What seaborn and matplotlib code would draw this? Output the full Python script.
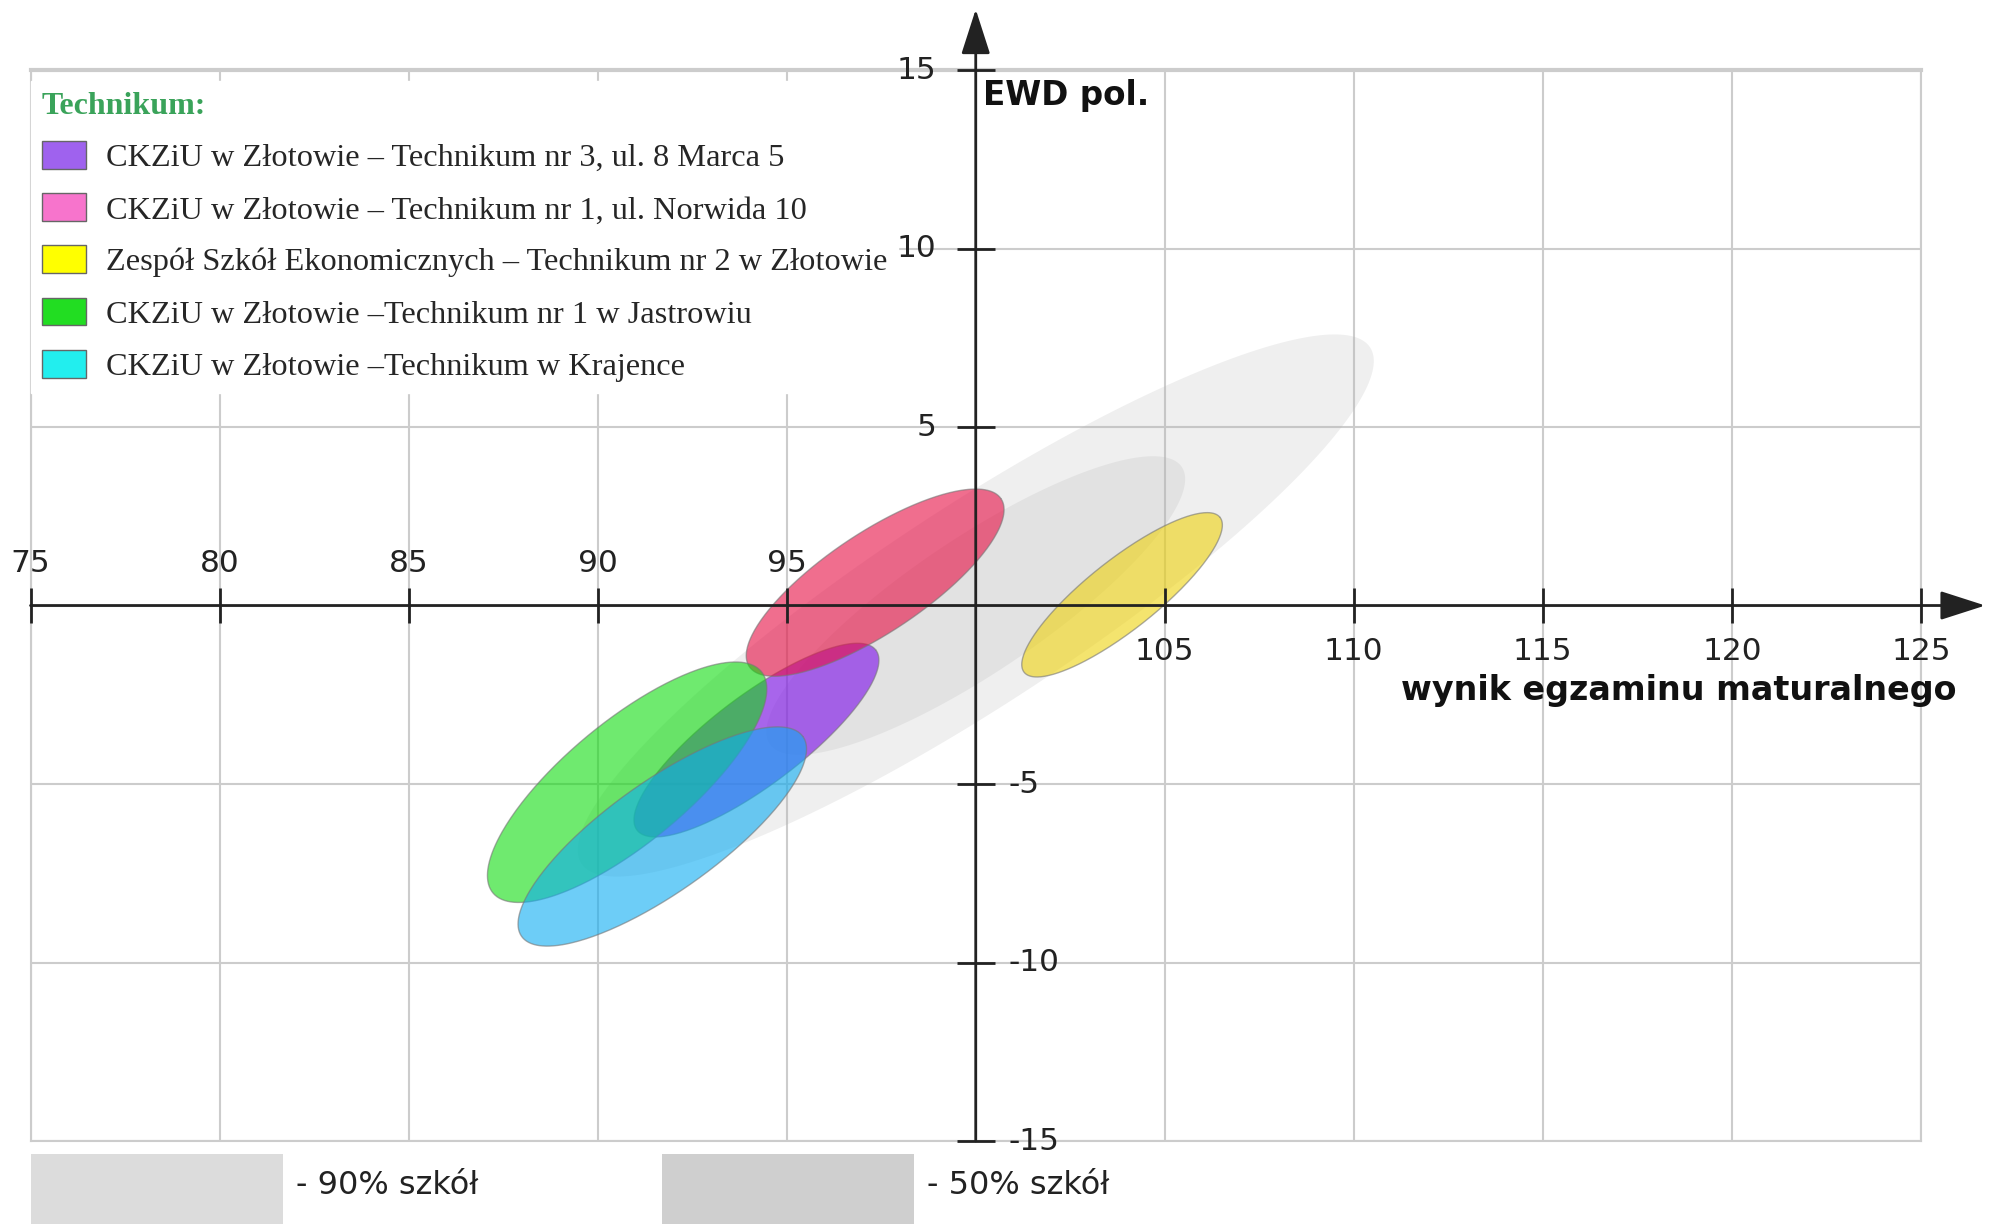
import numpy as np
import pandas as pd
import matplotlib
matplotlib.use("Agg")
import matplotlib.pyplot as plt
from matplotlib.patches import Patch, Rectangle
import seaborn as sns

# szkoly (kolejnosc jak w legendzie)
szkoly = [
    "CKZiU w Złotowie – Technikum nr 3, ul. 8 Marca 5",
    "CKZiU w Złotowie – Technikum nr 1, ul. Norwida 10",
    "Zespół Szkół Ekonomicznych – Technikum nr 2 w Złotowie",
    "CKZiU w Złotowie –Technikum nr 1 w Jastrowiu",
    "CKZiU w Złotowie –Technikum w Krajence",
]
kolory_legendy = ["#9f62ee", "#f774cc", "#ffff00", "#22dd22", "#22eeee"]
kolory_elips = ["#7a0ae9", "#e60d43", "#eed20d", "#0fdc0f", "#0cacf2"]

# elipsy: srodek, polowa osi glownej (dx, dy) i stosunek osi
srodek_x = [94.2, 97.34, 103.87, 90.78, 91.71]
srodek_y = [-3.77, 0.64, 0.30, -4.95, -6.47]
os_dx = [3.16, 3.33, 2.59, 3.55, 3.72]
os_dy = [2.52, 2.35, 2.17, 3.10, 2.80]
proporcja = [0.30, 0.33, 0.28, 0.35, 0.32]
kolejnosc = [0, 1, 3, 4, 2]

# tlo: 90% i 50% szkol
tlo_opis = ["- 90% szkół", "- 50% szkół"]
tlo_x = [100.0, 100.0]
tlo_y = [0.0, 0.0]
tlo_dx = [10.43, 5.45]
tlo_dy = [7.23, 3.88]
tlo_proporcja = [0.21, 0.27]

x_ticks = [75, 80, 85, 90, 95, 105, 110, 115, 120, 125]
y_ticks = [15, 10, 5, -5, -10, -15]

dane = pd.DataFrame({"szkola": szkoly, "x": srodek_x, "y": srodek_y,
                     "dx": os_dx, "dy": os_dy, "r": proporcja})

sns.set_theme(style="white")
plt.rcParams["font.family"] = ["DejaVu Sans"]

fig = plt.figure(figsize=(19.95, 12.24), dpi=100)
ax = fig.add_axes([0.01529, 0.0678, 0.9476, 0.875])
ax.set_xlim(75, 125)
ax.set_ylim(-15, 15)

# skala pikseli na jednostke (zeby elipsa byla prosta w obrazku)
kx = 0.9476 * 1995 / 50
ky = 0.875 * 1224 / 30


def elipsa(cx, cy, dx, dy, r):
    t = np.linspace(0, 2 * np.pi, 300)
    bx = -dy * ky * r / kx
    by = dx * kx * r / ky
    return cx + np.cos(t) * dx + np.sin(t) * bx, cy + np.cos(t) * dy + np.sin(t) * by


for i in range(2):
    ex, ey = elipsa(tlo_x[i], tlo_y[i], tlo_dx[i], tlo_dy[i], tlo_proporcja[i])
    ax.fill(ex, ey, color="#b4b4b4", alpha=0.21, lw=0, zorder=2)

for i in kolejnosc:
    w = dane.iloc[i]
    ex, ey = elipsa(w["x"], w["y"], w["dx"], w["dy"], w["r"])
    ax.fill(ex, ey, facecolor=kolory_elips[i], alpha=0.6, edgecolor="none", zorder=3)
    ax.plot(ex, ey, color="#777777", lw=1, alpha=0.6, zorder=3)

# siatka i ramka
ax.set_xticks(range(75, 126, 5))
ax.set_yticks(range(-15, 16, 5))
ax.tick_params(length=0, labelbottom=False, labelleft=False)
ax.grid(True, color="#cccccc", lw=1.5)
ax.set_axisbelow(True)
for s in ax.spines.values():
    s.set_color("#cccccc")
    s.set_linewidth(1.5)
ax.spines["top"].set_linewidth(3)

# osie ze strzalkami
strzalka = dict(arrowstyle="-|>,head_length=1.4,head_width=0.45", color="#222222",
                lw=2, shrinkA=0, shrinkB=0, mutation_scale=20)
ax.annotate("", xy=(126.7, 0), xytext=(75, 0), arrowprops=strzalka,
            annotation_clip=False, zorder=10)
ax.annotate("", xy=(100, 16.7), xytext=(100, -15), arrowprops=strzalka,
            annotation_clip=False, zorder=10)
ax.vlines(x_ticks, -0.5, 0.5, color="#222222", lw=2, zorder=10, clip_on=False)
ax.hlines(y_ticks, 99.5, 100.5, color="#222222", lw=2, zorder=10, clip_on=False)

for x in x_ticks:
    if x < 100:
        ax.text(x, 1.18, str(x), ha="center", va="center", fontsize=22.5, color="#222222")
    else:
        ax.text(x, -1.28, str(x), ha="center", va="center", fontsize=22.5, color="#222222")
for y in y_ticks:
    if y > 0:
        ax.text(98.95, y, str(y), ha="right", va="center", fontsize=22.5, color="#222222")
    else:
        ax.text(100.87, y, str(y), ha="left", va="center", fontsize=22.5, color="#222222")

ax.text(100.2, 14.29, "EWD pol.", ha="left", va="center", fontsize=23.5,
        fontweight="bold", color="#111111")
ax.text(125.94, -2.39, "wynik egzaminu maturalnego", ha="right", va="center",
        fontsize=24, fontweight="bold", color="#111111")

# legenda
uchwyty = [Patch(facecolor=c, edgecolor="#666666", lw=1) for c in kolory_legendy]
leg = ax.legend(uchwyty, szkoly, title="Technikum:", loc="upper left",
                bbox_to_anchor=(0.0, 0.99), alignment="left",
                prop={"family": "Liberation Serif", "size": 23.3},
                title_fontproperties={"family": "Liberation Serif", "size": 23,
                                      "weight": "bold"},
                frameon=True, facecolor="white", edgecolor="white", framealpha=1,
                fancybox=False, handlelength=1.37, handleheight=0.95,
                handletextpad=0.6, labelspacing=0.62, borderpad=0.35,
                borderaxespad=0)
leg.get_title().set_color("#3aa35a")
leg.set_zorder(6)

# opis tla na dole
kolory_tla = ["#dcdcdc", "#cfcfcf"]
pozycje = [30.5, 662]
for i in range(2):
    fig.add_artist(Rectangle((pozycje[i] / 1995, 0), 252 / 1995, 70 / 1224,
                             transform=fig.transFigure, color=kolory_tla[i], lw=0))
    fig.text((pozycje[i] + 265) / 1995, 38 / 1224, tlo_opis[i], va="center",
             fontsize=23, color="#222222")

fig.savefig("out.png", dpi=100)
